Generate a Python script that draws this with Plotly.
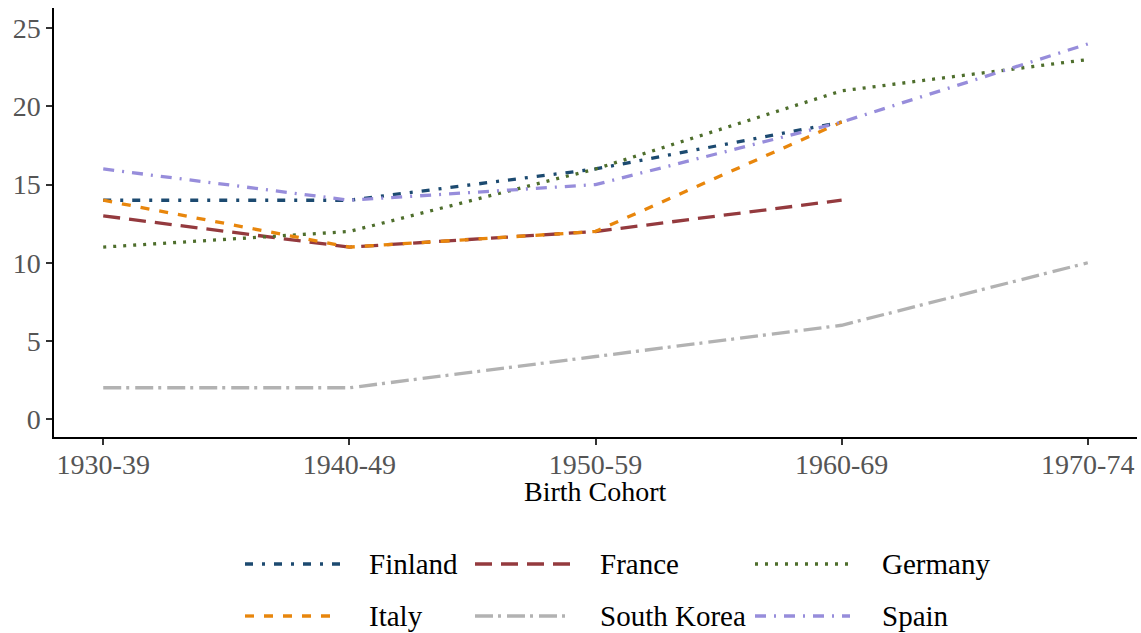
import plotly.graph_objects as go

cohorts = ["1930-39", "1940-49", "1950-59", "1960-69", "1970-74"]
countries = ["Finland", "France", "Germany", "Italy", "South Korea", "Spain"]
finland = [14, 14, 16, 19, None]
france = [13, 11, 12, 14, None]
germany = [11, 12, 16, 21, 23]
italy = [14, 11, 12, 19, None]
south_korea = [2, 2, 4, 6, 10]
spain = [16, 14, 15, 19, 24]
series = [finland, france, germany, italy, south_korea, spain]
y_ticks = [0, 5, 10, 15, 20, 25]

colors = ["#1c4a70", "#943a3e", "#4e6e2c", "#e8860c", "#b2b2b2", "#978ddb"]
dashes = ["8px,9px,3px,9px", "17px,9px", "3px,7px", "9px,10px", "18px,5px,3px,6px", "11px,8px,2px,8px"]
FONT = "Liberation Serif"

fig = go.Figure()
for name, vals, c, d in zip(countries, series, colors, dashes):
    fig.add_trace(go.Scatter(x=cohorts, y=vals, mode="lines", name=name,
                             line=dict(color=c, width=3.3, dash=d),
                             showlegend=False, connectgaps=False))

# custom legend (3 columns x 2 rows)
W, H = 1141, 633
L, R, T, B = 54, 4, 8, 196
pw, ph = W - L - R, H - T - B
sym_x = [245, 475, 755]
txt_x = [367, 598, 880]
row_y = [564, 616]
for i, (name, c, d) in enumerate(zip(countries, colors, dashes)):
    col, row = i % 3, i // 3
    yp = (H - B - row_y[row]) / ph
    x0 = (sym_x[col] - L) / pw
    x1 = (sym_x[col] + 95 - L) / pw
    fig.add_shape(type="line", xref="paper", yref="paper", x0=x0, x1=x1, y0=yp, y1=yp,
                  line=dict(color=c, width=3.3, dash=d))
    fig.add_annotation(xref="paper", yref="paper", x=(txt_x[col] - L) / pw, y=yp,
                       text=name, showarrow=False, xanchor="left", yanchor="middle",
                       font=dict(family=FONT, size=29, color="black"))

# x-axis title
fig.add_annotation(xref="paper", yref="paper", x=(595 - L) / pw, y=(H - B - 491) / ph,
                   text="Birth Cohort", showarrow=False, xanchor="center", yanchor="middle",
                   font=dict(family=FONT, size=28, color="black"))

fig.update_layout(
    width=W, height=H,
    margin=dict(l=L, r=R, t=T, b=B),
    paper_bgcolor="white", plot_bgcolor="white",
    font=dict(family=FONT, size=28, color="#555555"),
    xaxis=dict(type="category", range=[-0.2, 4.2], showgrid=False, zeroline=False,
               showline=True, linecolor="black", linewidth=1.5,
               ticks="outside", ticklen=6, tickcolor="#333333", tickwidth=1.5,
               ticklabelstandoff=-4,
               tickfont=dict(family=FONT, size=28, color="#555555")),
    yaxis=dict(range=[-1.15, 26.3], tickvals=y_ticks, showgrid=False, zeroline=False,
               showline=True, linecolor="black", linewidth=1.5,
               ticks="outside", ticklen=6, tickcolor="#333333", tickwidth=1.5,
               tickfont=dict(family=FONT, size=28, color="#555555")),
    showlegend=False,
)

fig.write_html("out.html", config={"displayModeBar": False},
               post_script="document.body.style.margin='0';")
